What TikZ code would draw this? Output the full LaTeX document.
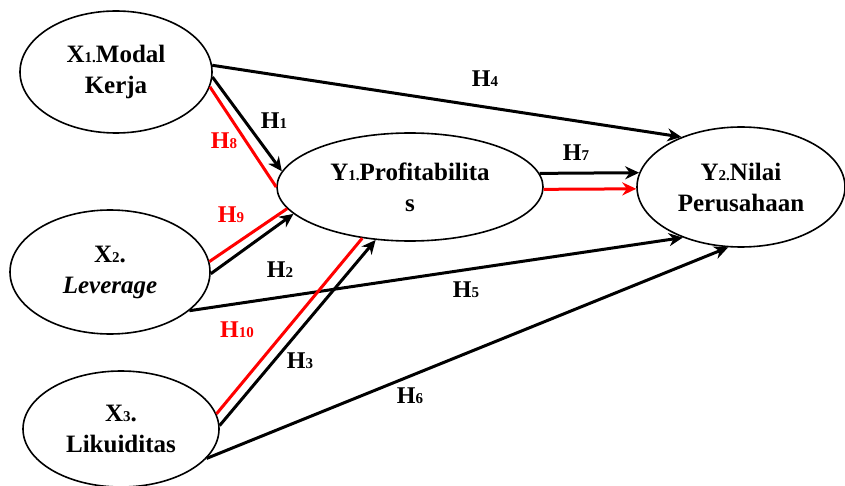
\documentclass[tikz,border=0pt]{standalone}
\usepackage{fontspec}
\setmainfont{Liberation Serif}
\usetikzlibrary{shapes.geometric,arrows.meta}
\newcommand{\sbs}[1]{{\fontsize{15}{15}\selectfont #1}}
\begin{document}
\begin{tikzpicture}[x=1pt,y=-1pt,
  var/.style={ellipse,draw,line width=1.6pt,inner sep=0pt,align=center,
    font=\fontsize{25}{31}\selectfont\bfseries},
  arr/.style={line width=3pt,-{Stealth[length=14pt,width=13pt]}},
  redarr/.style={line width=3pt,red,-{Stealth[length=14pt,width=13pt]}},
  redl/.style={line width=3pt,red},
  lab/.style={font=\fontsize{24}{24}\selectfont\bfseries,inner sep=0pt},
  redlab/.style={lab,text=red}]
\useasboundingbox (0,0) rectangle (845,486);
\node[var,minimum width=192pt,minimum height=122pt] (x1) at (116,72) {X\sbs{1.}Modal\\Kerja};
\node[var,minimum width=200pt,minimum height=124pt] (x2) at (110,272) {X\sbs{2}.\\\textit{Leverage}};
\node[var,minimum width=196pt,minimum height=116pt] (x3) at (121,429) {X\sbs{3}.\\Likuiditas};
\node[var,minimum width=266pt,minimum height=108pt] (y1) at (410,187) {Y\sbs{1.}Profitabilita\\s};
\node[var,minimum width=208pt,minimum height=120pt] (y2) at (741,187) {Y\sbs{2.}Nilai\\Perusahaan};
% arrows
\draw[arr] (x1.4) -- (y2.140);
\draw[arr] (x1.-3) -- (y1.173);
\draw[redl] (x1.-9) -- (y1.180);
\draw[redl] (x2.6) -- (y1.190);
\draw[arr] (x2.-1) -- (y1.193);
\draw[arr] (x2.-26) -- (y2.221);
\draw[redl] (x3.9) -- (y1.227);
\draw[arr] (x3.2) -- (y1.237);
\draw[arr] (x3.-19) -- (y2.258);
\draw[arr] (y1.6.5) -- (y2.172);
\draw[redarr] (y1.-1) -- (y2.181);
% labels
\node[lab] (h4) at (485,79) {H\sbs{4}};
\node[lab] (h1) at (274,121) {H\sbs{1}};
\node[redlab] (h8) at (224,141) {H\sbs{8}};
\node[redlab] (h9) at (231,215) {H\sbs{9}};
\node[lab] (h2) at (280,270) {H\sbs{2}};
\node[lab] (h5) at (466,290) {H\sbs{5}};
\node[redlab] (h10) at (237,330) {H\sbs{10}};
\node[lab] (h3) at (300,361) {H\sbs{3}};
\node[lab] (h6) at (410,396) {H\sbs{6}};
\node[lab] (h7) at (576,153) {H\sbs{7}};
\end{tikzpicture}
\end{document}
